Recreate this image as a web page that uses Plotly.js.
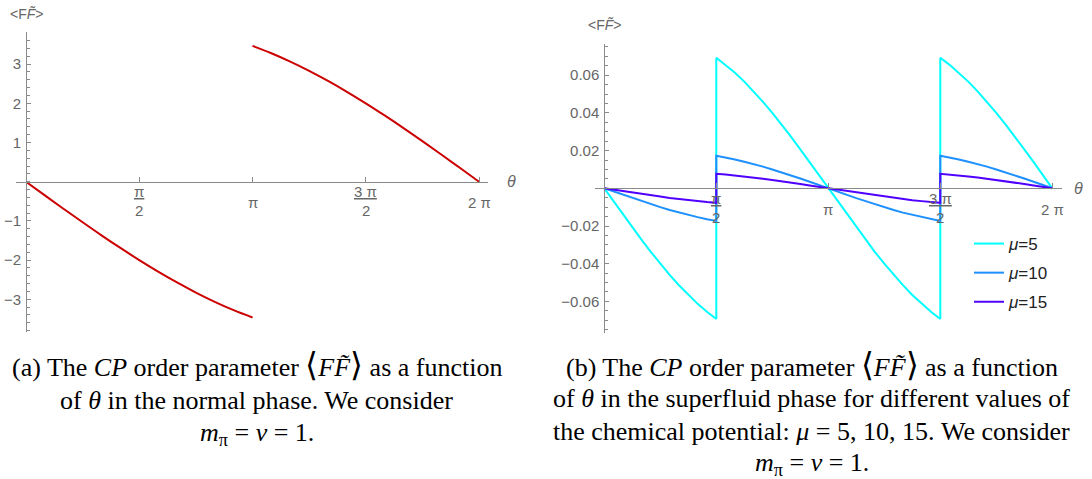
<!DOCTYPE html>
<html>
<head>
<meta charset="utf-8">
<script src="https://cdn.plot.ly/plotly-3.0.1.min.js"></script>
<style>
html, body { margin: 0; padding: 0; background: #fff; }
#chart { width: 1092px; height: 479px; }
</style>
</head>
<body>
<div id="chart"></div>
<script>
// ---------- data (theta in units of pi) ----------
// (a) normal phase: two branches, discontinuous at theta = pi
const thetaA1 = [0, 0.0833, 0.1667, 0.25, 0.3333, 0.4167, 0.5, 0.5833, 0.6667, 0.75, 0.8333, 0.9167, 1];
const ffA1 = [0, -0.349, -0.695, -1.035, -1.368, -1.690, -2.0, -2.294, -2.571, -2.828, -3.064, -3.277, -3.464];
const thetaA2 = [1, 1.0833, 1.1667, 1.25, 1.3333, 1.4167, 1.5, 1.5833, 1.6667, 1.75, 1.8333, 1.9167, 2];
const ffA2 = [3.464, 3.277, 3.064, 2.828, 2.571, 2.294, 2.0, 1.690, 1.368, 1.035, 0.695, 0.349, 0];

// (b) superfluid phase (vertical jumps at pi/2 and 3pi/2)
const thetaB = [0, 0.0417, 0.0833, 0.125, 0.1667, 0.2083, 0.25, 0.2917, 0.3333, 0.375, 0.4167, 0.4583, 0.5,
  0.5, 0.5417, 0.5833, 0.625, 0.6667, 0.7083, 0.75, 0.7917, 0.8333, 0.875, 0.9167, 0.9583, 1,
  1.0417, 1.0833, 1.125, 1.1667, 1.2083, 1.25, 1.2917, 1.3333, 1.375, 1.4167, 1.4583, 1.5,
  1.5, 1.5417, 1.5833, 1.625, 1.6667, 1.7083, 1.75, 1.7917, 1.8333, 1.875, 1.9167, 1.9583, 2];
const ffMu5 = [0, -0.0070, -0.0139, -0.0207, -0.0274, -0.0338, -0.0400, -0.0459, -0.0514, -0.0566, -0.0613, -0.0655, -0.0693,
  0.0693, 0.0655, 0.0613, 0.0566, 0.0514, 0.0459, 0.0400, 0.0338, 0.0274, 0.0207, 0.0139, 0.0070, 0,
  -0.0070, -0.0139, -0.0207, -0.0274, -0.0338, -0.0400, -0.0459, -0.0514, -0.0566, -0.0613, -0.0655, -0.0693,
  0.0693, 0.0655, 0.0613, 0.0566, 0.0514, 0.0459, 0.0400, 0.0338, 0.0274, 0.0207, 0.0139, 0.0070, 0];
const ffMu10 = [0, -0.0017, -0.0035, -0.0052, -0.0068, -0.0085, -0.0100, -0.0115, -0.0129, -0.0141, -0.0153, -0.0164, -0.0173,
  0.0173, 0.0164, 0.0153, 0.0141, 0.0129, 0.0115, 0.0100, 0.0085, 0.0068, 0.0052, 0.0035, 0.0017, 0,
  -0.0017, -0.0035, -0.0052, -0.0068, -0.0085, -0.0100, -0.0115, -0.0129, -0.0141, -0.0153, -0.0164, -0.0173,
  0.0173, 0.0164, 0.0153, 0.0141, 0.0129, 0.0115, 0.0100, 0.0085, 0.0068, 0.0052, 0.0035, 0.0017, 0];
const ffMu15 = [0, -0.0008, -0.0015, -0.0023, -0.0030, -0.0038, -0.0044, -0.0051, -0.0057, -0.0063, -0.0068, -0.0073, -0.0077,
  0.0077, 0.0073, 0.0068, 0.0063, 0.0057, 0.0051, 0.0044, 0.0038, 0.0030, 0.0023, 0.0015, 0.0008, 0,
  -0.0008, -0.0015, -0.0023, -0.0030, -0.0038, -0.0044, -0.0051, -0.0057, -0.0063, -0.0068, -0.0073, -0.0077,
  0.0077, 0.0073, 0.0068, 0.0063, 0.0057, 0.0051, 0.0044, 0.0038, 0.0030, 0.0023, 0.0015, 0.0008, 0];
const seriesNames = ["<i>μ</i>=5", "<i>μ</i>=10", "<i>μ</i>=15"];

// tick labels
const xTickVals = [0.5, 1, 1.5, 2];
const xTickNum = ["π", "π", "3 π", "2 π"];
const xTickDen = ["2", "", "2", ""];
const yTickValsA = [-3, -2, -1, 1, 2, 3];
const yTickTextA = ["−3", "−2", "−1", "1", "2", "3"];
const yTickValsB = [-0.06, -0.04, -0.02, 0.02, 0.04, 0.06];
const yTickTextB = ["−0.06", "−0.04", "−0.02", "0.02", "0.04", "0.06"];

const captionA = [
  "(a) The <i>CP</i> order parameter <span style=\"font-size:125%\">⟨</span><i>F</i><i>F̃</i><span style=\"font-size:125%\">⟩</span> as a function",
  "of <i>θ</i> in the normal phase. We consider",
  "<i>m</i><sub>π</sub> = <i>ν</i> = 1."
];
const captionB = [
  "(b) The <i>CP</i> order parameter <span style=\"font-size:125%\">⟨</span><i>F</i><i>F̃</i><span style=\"font-size:125%\">⟩</span> as a function",
  "of <i>θ</i> in the superfluid phase for different values of",
  "the chemical potential: <i>μ</i> = 5, 10, 15. We consider",
  "<i>m</i><sub>π</sub> = <i>ν</i> = 1."
];

// ---------- styling ----------
const W = 1092, H = 479;
const px = v => v / W;
const py = v => 1 - v / H;
const AX = "#8a8a8a";
const TXT = "#666666";
const tickFont = {family: "Liberation Sans, Arial, sans-serif", size: 15, color: TXT};
const colors = ["#00FFFF", "#1E90FF", "#5000FF"];

const traces = [
  {x: thetaA1, y: ffA1, xaxis: "x", yaxis: "y", mode: "lines",
   line: {color: "#CC0000", width: 2, shape: "spline", smoothing: 1}, showlegend: false, hoverinfo: "skip"},
  {x: thetaA2, y: ffA2, xaxis: "x", yaxis: "y", mode: "lines",
   line: {color: "#CC0000", width: 2, shape: "spline", smoothing: 1}, showlegend: false, hoverinfo: "skip"}
];
[ffMu5, ffMu10, ffMu15].forEach((ys, i) => {
  traces.push({x: thetaB, y: ys, xaxis: "x2", yaxis: "y2", mode: "lines",
    name: seriesNames[i], legendgroup: "g" + i,
    line: {color: colors[i], width: 2}, hoverinfo: "skip"});
});

function xAxis(domain, range, pos) {
  return {domain: domain, range: range, anchor: "free", position: pos,
    showline: true, linecolor: AX, linewidth: 1, zeroline: false, showgrid: false,
    ticks: "inside", ticklen: 5, tickcolor: AX, tickwidth: 1,
    tickmode: "array", tickvals: xTickVals, showticklabels: false, fixedrange: true};
}
function yAxis(domain, range, pos, vals, text, minorDtick) {
  return {domain: domain, range: range, anchor: "free", position: pos,
    showline: true, linecolor: AX, linewidth: 1, zeroline: false, showgrid: false,
    ticks: "inside", ticklen: 4, tickcolor: AX, tickwidth: 1, ticklabelstandoff: 2,
    tickmode: "array", tickvals: vals, ticktext: text, tickfont: tickFont,
    minor: {tickmode: "linear", tick0: 0, dtick: minorDtick, ticks: "inside", ticklen: 2.5, tickcolor: AX, tickwidth: 1, showgrid: false},
    fixedrange: true};
}

const annotations = [];
function addXLabels(xref, yref) {
  xTickVals.forEach((v, i) => {
    if (xTickDen[i]) {
      annotations.push({xref: xref, yref: yref, x: v, y: 0, yshift: -10, yanchor: "middle", xanchor: "center",
        text: "<u>" + xTickNum[i] + "</u>", showarrow: false, font: tickFont});
      annotations.push({xref: xref, yref: yref, x: v, y: 0, yshift: -29, yanchor: "middle", xanchor: "center",
        text: xTickDen[i], showarrow: false, font: tickFont});
    } else {
      annotations.push({xref: xref, yref: yref, x: v, y: 0, yshift: -21, yanchor: "middle", xanchor: "center",
        text: xTickNum[i], showarrow: false, font: tickFont});
    }
  });
}
addXLabels("x", "y");
addXLabels("x2", "y2");

// axis labels
const axLabFont = {family: "Liberation Sans, Arial, sans-serif", size: 14, color: TXT};
annotations.push({xref: "paper", yref: "paper", x: px(26), y: py(14), xanchor: "center", yanchor: "middle",
  text: "&lt;F<i>F̃</i>&gt;", showarrow: false, font: axLabFont});
annotations.push({xref: "paper", yref: "paper", x: px(604), y: py(25), xanchor: "center", yanchor: "middle",
  text: "&lt;F<i>F̃</i>&gt;", showarrow: false, font: axLabFont});
const thetaFont = {family: "Liberation Sans, Arial, sans-serif", size: 16, color: TXT};
annotations.push({xref: "paper", yref: "paper", x: px(511), y: py(181), xanchor: "center", yanchor: "middle",
  text: "<i>θ</i>", showarrow: false, font: thetaFont});
annotations.push({xref: "paper", yref: "paper", x: px(1078), y: py(188), xanchor: "center", yanchor: "middle",
  text: "<i>θ</i>", showarrow: false, font: thetaFont});

// captions
const capFont = {family: "Liberation Serif, Times New Roman, serif", size: 26, color: "#000"};
const capYA = [365, 400, 434];
const capYB = [365, 398, 431, 464];
captionA.forEach((t, i) => annotations.push({xref: "paper", yref: "paper", x: px(256.5), y: py(capYA[i]),
  xanchor: "center", yanchor: "middle", text: t, showarrow: false, font: capFont}));
captionB.forEach((t, i) => annotations.push({xref: "paper", yref: "paper", x: px(811.5), y: py(capYB[i]),
  xanchor: "center", yanchor: "middle", text: t, showarrow: false, font: capFont}));

const layout = {
  width: W, height: H,
  margin: {l: 0, r: 0, t: 0, b: 0},
  paper_bgcolor: "#fff", plot_bgcolor: "rgba(0,0,0,0)",
  xaxis: xAxis([px(16), px(488)], [-0.04415, 2.0397], py(181.7)),
  yaxis: yAxis([py(332), py(32)], [-3.834, 3.819], px(26), yTickValsA, yTickTextA, 0.2),
  xaxis2: xAxis([px(595), px(1061.7)], [-0.04152, 2.0420], py(188.3)),
  yaxis2: yAxis([py(332.7), py(44.3)], [-0.0766, 0.0764], px(604.3), yTickValsB, yTickTextB, 0.005),
  showlegend: true,
  legend: {x: px(969), y: py(226), xanchor: "left", yanchor: "top", bgcolor: "rgba(0,0,0,0)",
    font: {family: "Liberation Sans, Arial, sans-serif", size: 17, color: "#222"},
    tracegroupgap: 4, traceorder: "grouped"},
  annotations: annotations
};

Plotly.newPlot("chart", traces, layout, {displayModeBar: false, staticPlot: true});
</script>
</body>
</html>
